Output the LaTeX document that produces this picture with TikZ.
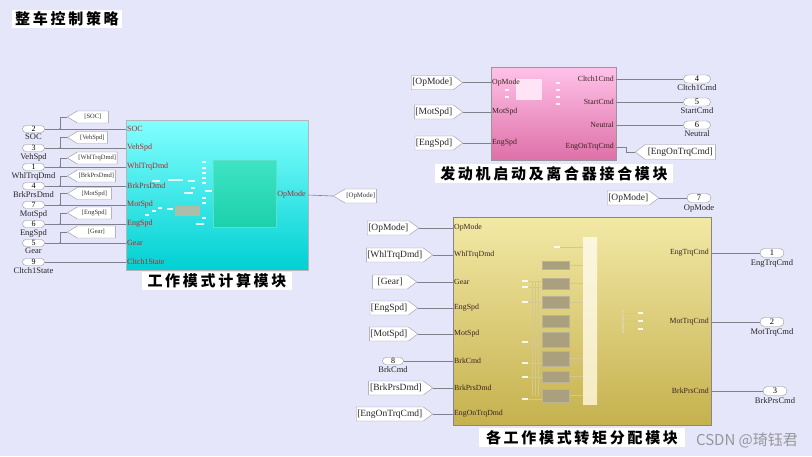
\documentclass[tikz,border=0pt]{standalone}
\usepackage{fontspec}
\setmainfont{Liberation Serif}
\newfontfamily\cjkcap[LetterSpace=18]{Noto Sans CJK SC}
\newfontfamily\cjkmark{Noto Sans CJK SC}
\usetikzlibrary{shapes.symbols,shapes.misc}
\definecolor{bgc}{RGB}{230,230,250}
\definecolor{wiregray}{RGB}{128,128,140}
\definecolor{edgegray}{RGB}{150,150,155}
\definecolor{btop}{RGB}{130,255,255}
\definecolor{bbot}{RGB}{0,208,210}
\definecolor{gtop}{RGB}{62,228,196}
\definecolor{gbot}{RGB}{28,208,172}
\definecolor{gedge}{RGB}{90,225,200}
\definecolor{subfill}{RGB}{172,190,168}
\definecolor{ptop}{RGB}{255,194,232}
\definecolor{pbot}{RGB}{222,112,168}
\definecolor{pinner}{RGB}{255,228,246}
\definecolor{ytop}{RGB}{243,233,166}
\definecolor{ybot}{RGB}{197,177,78}
\definecolor{coltop}{RGB}{251,246,222}
\definecolor{colbot}{RGB}{245,236,196}
\definecolor{redlab}{RGB}{185,35,35}
\definecolor{darklab}{RGB}{55,35,30}
\definecolor{graybox}{RGB}{170,160,126}
\definecolor{faint}{RGB}{214,200,140}
\definecolor{markgray}{RGB}{150,150,155}
\begin{document}
\begin{tikzpicture}[x=1pt,y=-1pt,
  wire/.style={draw=wiregray, line width=0.6pt},
  inport/.style={rounded rectangle, draw=edgegray, fill=white, inner sep=0pt,
     minimum width=22pt, minimum height=7pt, font=\fontsize{8}{8}\selectfont},
  outport/.style={rounded rectangle, draw=edgegray, fill=white, inner sep=0pt,
     minimum width=25pt, minimum height=9pt, font=\fontsize{8.5}{8.5}\selectfont},
  portname/.style={font=\fontsize{8.5}{9}\selectfont, inner sep=0pt, text=black!85},
  gototag/.style={signal, signal to=west, signal pointer angle=62, draw=edgegray, fill=white,
     inner sep=1pt, minimum height=12pt, text=black!80},
  fromtag/.style={signal, signal to=east, signal pointer angle=74, draw=edgegray, fill=white,
     inner sep=1pt, minimum height=14pt, text=black!85, font=\fontsize{9.5}{10}\selectfont},
  smalltag/.style={font=\fontsize{6.5}{7}\selectfont},
  redport/.style={font=\fontsize{8}{8}\selectfont, text=redlab, inner sep=0pt},
  darkport/.style={font=\fontsize{7.8}{8}\selectfont, text=darklab, inner sep=0pt},
  caption/.style={fill=white, inner sep=0pt, font=\cjkcap\bfseries\fontsize{15}{15}\selectfont},
  whitedash/.style={fill=white, opacity=0.85},
  jdot/.style={circle, fill=wiregray, inner sep=0pt, minimum size=1.6pt}
]
\useasboundingbox (0,0) rectangle (812,456);
\fill[bgc] (0,0) rectangle (812,456);

% ---------------- title
\node[caption, minimum width=110pt, minimum height=18pt] (title) at (67,19) {整车控制策略};

% ---------------- block 1
\node[draw=edgegray!70, top color=btop, bottom color=bbot, minimum width=182pt, minimum height=150pt, inner sep=0pt] (B1) at (217,195) {};
\node[top color=gtop, bottom color=gbot, draw=gedge, minimum width=63pt, minimum height=67pt, inner sep=0pt] (B1core) at (244.5,193.5) {};
\node[fill=subfill, minimum width=25pt, minimum height=10pt, inner sep=0pt] (B1sub) at (187.5,211) {};
\foreach \xa/\xb/\yy in {202/206/162,202/206/168,202/206/173,202/206/178,202/206/183,152/160/181,168/183/180,188/195/181,191/195/188,184/193/193,205/212/191,202/206/198,202/206/203,158/162/208,152/156/211,167/173/209,145/149/215,202/206/218,196/204/224}
  \fill[whitedash] (\xa,\yy-0.9) rectangle (\xb,\yy+0.9);
\node[caption, minimum width=150pt, minimum height=18pt] (cap1) at (217,281) {工作模式计算模块};

\foreach \n/\lab/\y/\i in {2/SOC/129/1,3/VehSpd/148/2,1/WhlTrqDmd/167/3,4/BrkPrsDmd/186/4,7/MotSpd/205/5,6/EngSpd/224/6,5/Gear/243/7,9/Cltch1State/262/8}{
  \node[inport] (in\i) at (33.5,\y) {\n};
  \node[portname, anchor=north] (inl\i) at ([yshift=-1.2pt]in\i.south) {\lab};
  \coordinate (b1p\i) at (126,\y);
  \draw[wire] (in\i.east) -- (b1p\i);
  \node[redport, anchor=west] (b1l\i) at (127,\y) {\lab};
}
\foreach \i/\lab/\ty/\py/\w in {1/SOC/117/129/41,2/VehSpd/137.5/148/40,3/WhlTrqDmd/158/167/48,4/BrkPrsDmd/176/186/48,5/MotSpd/193.5/205/44,6/EngSpd/213/224/44,7/Gear/232/243/48}{
  \node[gototag, smalltag, minimum width=\w pt, anchor=west] (g\i) at (67,\ty) {[\lab]};
  \coordinate (j\i) at (60,\py);
  \draw[wire] (j\i) |- (g\i.west);
  \node[jdot] at (j\i) {};
}
\coordinate (b1o) at (308,195);
\node[redport, anchor=east] (b1ol) at (306,195) {OpMode};
\node[gototag, font=\fontsize{6.8}{7}\selectfont, minimum width=43pt, minimum height=14pt, anchor=west] (gOp) at (333,196) {[OpMode]};
\draw[wire] (b1o) -- (gOp.west);

% ---------------- block 2
\node[draw=edgegray, top color=ptop, bottom color=pbot, minimum width=125pt, minimum height=93pt, inner sep=0pt] (B2) at (553.5,113.5) {};
\fill[pinner] (516,79) rectangle (542,100);
\foreach \xa/\xb/\yy in {556/560/83,556/560/90,556/560/97,556/560/104,505/509/90,505/509/97}
  \fill[whitedash] (\xa,\yy-0.8) rectangle (\xb,\yy+0.8);
\node[caption, minimum width=238pt, minimum height=19pt] (cap2) at (554,173.5) {发动机启动及离合器接合模块};

\foreach \lab/\y/\i/\w in {OpMode/82.7/1/50,MotSpd/112/2/47,EngSpd/143/3/47}{
  \node[fromtag, minimum width=\w pt, anchor=east] (f2\i) at (463,\y) {[\lab]};
  \coordinate (b2i\i) at (491,\y);
  \draw[wire] (f2\i.east) -- (b2i\i);
  \node[darkport, anchor=west] at (492,\y) {\lab};
}
\foreach \n/\lab/\y/\i in {4/Cltch1Cmd/79/1,5/StartCmd/102/2,6/Neutral/125/3}{
  \coordinate (b2o\i) at (616,\y);
  \node[darkport, anchor=east] at (614,\y) {\lab};
  \node[outport, minimum width=27pt, minimum height=8pt] (o2\i) at (697,\y) {\n};
  \node[portname, anchor=north] at ([yshift=-1.5pt]o2\i.south) {\lab};
  \draw[wire] (b2o\i) -- (o2\i.west);
}
\coordinate (b2o4) at (616,147);
\node[darkport, anchor=east] at (614,147) {EngOnTrqCmd};
\node[gototag, signal pointer angle=74, font=\fontsize{9.5}{10}\selectfont, text=black!85, minimum width=80pt, minimum height=15pt, anchor=west] (g2e) at (635,152) {[EngOnTrqCmd]};
\coordinate (k2) at (626,147);
\draw[wire] (b2o4) -- (k2) |- (g2e.west);

% ---------------- block 3
\node[draw=edgegray!90!black, top color=ytop, bottom color=ybot, minimum width=258pt, minimum height=208pt, inner sep=0pt] (B3) at (582,321) {};
\foreach \yy in {265,283.5,302,321,339.5,358.5,376.5,395.5}
  \draw[faint, line width=0.4pt] (569,\yy) -- (583,\yy);
\foreach \xx in {532,535,538}
  \draw[faint, line width=0.4pt] (\xx,282) -- (\xx,396);
\foreach \yy in {281,287,302,342,363,377,399}
  \draw[faint, line width=0.4pt] (528,\yy) -- (542,\yy);
\draw[faint, line width=0.4pt] (560,247) -- (583,247);
\shade[top color=coltop, bottom color=colbot] (583,237) rectangle (597,404);
\foreach \ya/\yb in {261/269,278/289,296/308,315/327,332/347,351/366,371/382,389/402}
  \filldraw[fill=graybox, draw=graybox!80!white, line width=0.4pt] (542,\ya) rectangle (569,\yb);
\foreach \xa/\xb/\yy in {522/528/281,522/528/287,522/528/302,522/528/342,522/528/363,522/528/377,522/528/399,554/560/247,638/643/313,638/643/321,638/643/329}
  \fill[whitedash] (\xa,\yy-0.9) rectangle (\xb,\yy+0.9);
\draw[faint!80!white, line width=1.2pt] (623,310) -- (623,333);
\foreach \yy in {313,321,329} \draw[faint, line width=0.4pt] (623,\yy) -- (638,\yy);
\node[caption, minimum width=206pt, minimum height=19pt] (cap3) at (582,437.5) {各工作模式转矩分配模块};

\foreach \lab/\tlab/\y/\i/\xr/\w in {OpMode/OpMode/228/1/419/50,WhlTrqDmd/WhlTrqDmd/255/2/433/64,Gear/Gear/282/3/417/44,EngSpd/EngSpd/308/4/418/45,MotSpd/MotSpd/334/5/418/46,BrkPrsDmd/BrkPrsDmd/388/7/433/64,EngOnTrqDmd/EngOnTrqCmd/414/8/433/73}{
  \node[fromtag, minimum width=\w pt, anchor=east] (f3\i) at (\xr,\y) {[\tlab]};
  \coordinate (b3i\i) at (453,\y);
  \draw[wire] (f3\i.east) -- (b3i\i);
  \node[darkport, anchor=west] at (454,\y) {\lab};
}
\node[inport, minimum width=21pt] (in3b) at (393,361) {8};
\node[portname, anchor=north] at ([yshift=-1.2pt]in3b.south) {BrkCmd};
\coordinate (b3i6) at (453,361);
\draw[wire] (in3b.east) -- (b3i6);
\node[darkport, anchor=west] at (454,361) {BrkCmd};

\foreach \n/\lab/\y/\i/\xo in {1/EngTrqCmd/253/1/772,2/MotTrqCmd/322/2/772,3/BrkPrsCmd/391/3/775}{
  \coordinate (b3o\i) at (711,\y);
  \node[darkport, anchor=east] at (709,\y) {\lab};
  \node[outport, minimum width=24pt] (o3\i) at (\xo,\y) {\n};
  \node[portname, anchor=north] at ([yshift=-1.5pt]o3\i.south) {\lab};
  \draw[wire] (b3o\i) -- (o3\i.west);
}
\node[fromtag, minimum width=50pt, anchor=east] (fTop) at (659,198) {[OpMode]};
\node[outport, minimum width=24pt] (o37) at (699,198) {7};
\node[portname, anchor=north] at ([yshift=-1.5pt]o37.south) {OpMode};
\draw[wire] (fTop.east) -- (o37.west);

% ---------------- watermark
\node[font=\cjkmark\fontsize{15}{15}\selectfont, text=markgray, inner sep=0pt] (wm) at (747,440) {CSDN @琦钰君};
\end{tikzpicture}
\end{document}
